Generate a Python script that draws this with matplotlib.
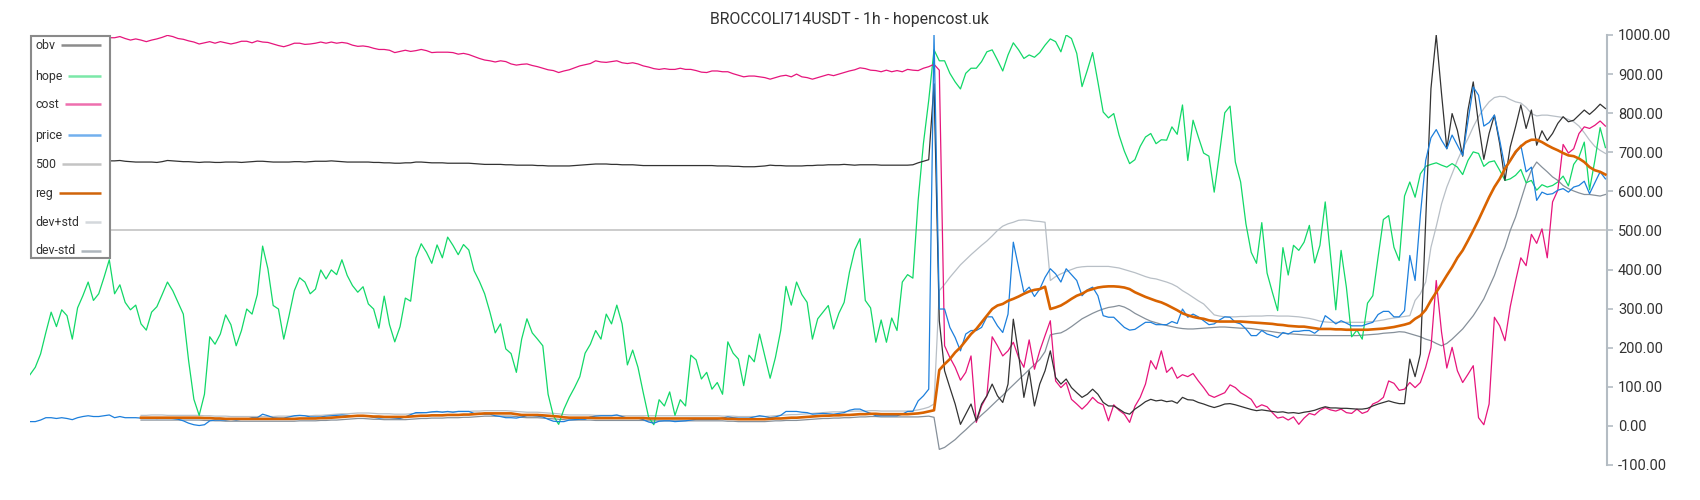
import matplotlib
matplotlib.use("Agg")
import matplotlib.pyplot as plt
import numpy as np
from matplotlib.patches import Rectangle

plt.rcParams['font.family'] = ['Roboto', 'DejaVu Sans']

title = "BROCCOLI714USDT - 1h - hopencost.uk"
labels = ["obv", "hope", "cost", "price", "500", "reg", "dev+std", "dev-std"]
y_ticks = [-100, 0, 100, 200, 300, 400, 500, 600, 700, 800, 900, 1000]

hope = [
    131,150,184,239,291,254,297,282,222,302,
    333,368,321,338,380,425,338,361,316,297,
    309,261,245,291,305,336,368,346,316,286,
    167,68,27,81,228,209,235,284,259,205,
    244,299,286,336,460,402,308,299,222,282,
    346,379,368,338,
    350,399,376,399,387,425,385,359,342,356,
    312,299,250,332,259,215,254,327,319,430,
    466,444,416,463,430,483,462,438,464,450,
    397,370,338,291,238,261,197,185,137,222,
    274,238,222,205,81,26,4,43,73,98,
    126,186,209,
    244,222,286,261,309,261,156,194,150,85,
    23,3,67,51,87,27,67,51,181,169,
    120,137,94,111,81,215,186,171,103,181,
    164,235,179,122,175,244,357,309,368,336,
    316,222,274,291,308,248,288,316,393,450,
    479,321,302,
    214,271,214,276,244,368,387,378,577,723,
    833,962,
    934,934,902,880,862,902,915,915,932,957,
    962,936,908,949,980,962,940,949,943,955,
    974,990,983,957,1000,991,953,868,910,955,
    880,803,788,799,744,703,671,681,715,739,
    748,722,732,731,765,746,821,679,782,739,
    698,690,598,697,801,818,675,624,517,444,
    416,520,391,342,295,456,386,462,449,470,
    513,417,462,573,436,297,449,355,228,245,
    222,314,333,432,528,538,457,423,588,624,
    585,645,664,
    669,673,667,662,671,662,643,679,701,697,
    664,675,678,654,628,632,641,656,622,628,
    603,617,611,615,624,639,614,669,688,726,
    604,679,763,712,
]

cost = [
    992,991,990,992,993,991,990,989,991,993,994,992,990,991,992,993,
    993,996,991,987,990,987,983,987,990,994,
    999,996,991,989,985,982,977,980,983,979,
    983,980,977,980,984,984,980,985,982,981,
    977,973,970,974,979,979,976,
    977,979,982,979,982,979,981,979,974,971,
    972,970,966,963,963,961,955,958,961,958,
    960,963,960,955,956,956,956,955,951,953,
    950,945,940,936,934,931,934,932,926,923,
    925,926,922,919,915,911,909,904,908,911,
    916,921,924,
    927,934,931,930,932,934,929,927,929,926,
    921,918,914,912,914,912,912,915,912,912,
    909,905,904,908,908,906,906,901,897,893,
    895,895,893,891,887,891,895,897,893,900,
    893,891,887,891,895,899,896,900,904,908,
    911,916,914,910,
    909,906,910,906,909,906,912,910,909,915,
    919,925,910,
    205,175,150,117,137,179,9,51,77,228,
    205,179,192,214,175,150,220,145,192,231,
    269,115,98,111,68,56,43,56,73,60,
    54,13,54,40,30,9,50,
    73,107,167,145,192,137,150,122,131,126,
    134,115,98,79,73,79,85,105,98,85,
    77,68,47,54,49,34,20,23,15,23,
    4,20,32,28,40,47,41,38,43,34,
    32,43,32,37,56,62,73,115,109,91,
    94,111,98,111,150,
    200,372,240,148,201,141,111,132,154,21,
    3,56,278,256,218,305,370,430,410,490,
    467,504,430,573,603,720,698,709,748,765,
    761,769,780,767,
]

obv = [
    678,678,677,678,679,678,677,678,678,677,678,679,678,677,678,678,
    678,679,677,676,675,675,675,675,674,676,
    679,678,677,676,676,675,674,675,675,674,
    674,675,675,675,674,675,676,677,677,676,
    675,675,675,675,676,676,675,
    676,677,677,677,678,677,676,675,675,675,
    675,675,674,674,673,673,672,672,673,673,
    675,675,674,673,673,673,672,672,672,672,
    672,671,670,669,669,669,669,668,668,667,
    667,667,667,666,666,665,665,665,665,665,
    666,667,668,
    669,670,670,670,669,669,668,668,668,667,
    666,666,666,666,666,666,666,666,666,666,
    666,666,666,666,665,665,665,664,664,663,
    663,663,664,665,667,666,666,665,665,665,
    665,666,666,667,667,668,668,668,669,668,
    667,668,668,668,
    668,667,667,667,667,667,667,668,673,677,
    681,875,
    269,141,98,56,4,30,56,13,56,77,
    107,77,60,107,273,184,73,141,51,107,
    141,192,124,107,120,98,85,73,81,94,
    81,60,51,51,43,34,30,43,
    52,62,68,64,66,62,64,58,73,67,
    66,60,56,51,47,51,56,57,54,50,
    46,42,39,41,39,37,35,36,33,34,
    32,35,37,40,45,49,46,46,45,45,
    44,43,43,45,51,56,60,64,60,57,
    57,171,126,184,
    520,863,1000,850,709,799,756,690,808,880,
    772,682,748,795,722,628,714,765,821,761,
    808,718,755,730,748,774,791,778,782,795,
    808,797,809,823,812,
]

price = [
    11,11,15,21,21,19,21,19,16,21,
    24,26,24,24,26,28,21,24,21,21,
    21,20,20,20,19,20,20,19,17,13,
    7,3,1,3,13,15,15,15,17,15,
    17,17,21,21,30,26,21,20,20,23,
    26,27,26,23,
    23,23,25,26,27,28,27,26,26,26,
    25,22,20,21,21,20,19,23,29,34,
    34,34,36,37,35,37,35,37,37,37,
    32,32,30,30,26,24,21,21,20,23,
    26,26,25,23,17,12,11,11,15,16,
    17,17,
    23,25,26,26,26,28,24,20,20,20,
    16,10,7,12,13,13,11,12,13,15,
    17,17,17,17,17,20,23,21,20,20,
    20,23,26,24,21,23,27,37,37,37,
    35,34,30,31,32,31,30,32,34,40,
    43,43,37,32,
    26,26,26,26,26,30,37,37,64,77,
    94,1000,
    299,299,252,226,192,235,244,244,252,279,
    279,256,239,286,470,406,342,355,331,350,
    380,402,389,368,402,387,372,333,348,355,
    333,282,278,278,265,252,245,247,256,
    265,265,259,259,259,267,262,299,278,286,
    279,269,259,261,271,279,278,265,261,248,
    231,231,244,235,231,226,239,235,242,242,
    244,244,237,248,282,272,261,269,263,256,
    256,256,261,265,285,293,293,279,279,295,
    436,372,540,679,
    737,758,731,709,744,718,692,780,867,846,
    767,776,795,731,662,679,697,718,650,662,
    577,598,592,594,603,607,598,611,615,626,
    594,622,650,632,
]

level_500 = 500

band_start = 21
reg = [
    21,21,21,21,21,21,21,21,21,21,
    21,21,20,20,19,19,18,18,18,18,
    18,18,18,18,18,18,18,18,18,18,
    19,19,
    19,19,20,20,21,22,23,24,25,26,
    26,25,24,24,23,23,23,23,23,24,
    25,26,26,27,27,27,28,28,28,29,
    29,30,31,32,32,32,32,32,32,30,
    28,28,28,28,27,26,25,24,22,21,
    21,21,21,
    21,20,20,20,20,20,20,20,20,20,
    20,19,19,19,19,19,19,19,19,19,
    19,19,19,19,19,19,18,18,17,17,
    17,17,17,17,18,19,19,20,21,21,
    22,23,24,25,26,26,27,27,28,28,
    29,30,30,31,31,30,30,30,30,30,
    30,31,32,34,37,
    40,143,158,171,188,201,218,235,248,265,
    282,299,308,312,320,325,331,338,344,348,
    350,356,299,303,308,316,325,333,338,346,
    350,354,356,357,357,356,354,350,342,336,
    330,325,320,316,310,303,296,288,283,279,
    276,274,270,268,267,267,267,267,267,266,
    265,264,263,262,261,259,258,256,255,254,
    254,252,250,248,248,248,247,247,246,246,
    246,246,246,247,248,249,251,253,256,259,
    263,274,282,297,
    321,342,363,385,406,430,449,474,500,527,
    556,585,611,632,658,679,701,715,726,732,
    732,726,718,711,705,698,692,690,684,675,
    662,654,650,643,
]

dev_plus = [
    27,27,28,28,28,27,27,27,27,27,
    27,27,26,26,25,25,25,24,24,24,
    24,24,24,24,24,24,25,25,25,25,
    26,26,
    26,27,27,28,29,30,31,31,32,33,
    33,33,32,31,31,31,30,30,30,31,
    32,33,34,35,35,36,36,36,37,37,
    37,38,38,39,39,39,39,39,38,37,
    36,35,35,35,34,33,32,31,29,28,
    28,28,28,
    28,27,27,27,27,27,26,26,26,26,
    26,26,26,26,26,26,26,26,26,26,
    26,26,26,26,26,25,25,25,24,24,
    24,24,24,24,25,26,27,28,29,29,
    30,31,32,33,34,35,36,36,37,37,
    38,38,38,39,39,38,38,38,38,38,
    38,39,41,44,48,
    56,346,362,380,396,412,425,438,450,462,
    473,486,500,511,517,521,526,527,526,524,
    523,521,372,382,389,395,400,405,407,408,
    408,408,408,408,406,404,400,396,392,387,
    382,378,376,372,368,363,356,346,338,329,
    320,312,298,284,281,279,279,279,280,280,
    281,281,281,282,282,281,281,281,280,279,
    277,275,272,268,266,265,265,265,265,265,
    265,265,266,267,269,271,274,276,278,280,
    282,321,338,368,
    457,510,568,611,645,679,709,735,765,791,
    812,829,840,843,842,835,829,826,815,799,
    793,795,795,793,791,789,784,778,767,750,
    731,715,705,697,
]

dev_minus = [
    15,15,15,15,15,15,15,15,15,15,
    15,15,14,14,13,13,12,12,12,12,
    12,12,12,12,12,12,12,12,12,12,
    13,13,
    13,13,14,14,15,15,16,17,18,19,
    19,18,17,17,16,16,16,16,16,17,
    18,19,19,20,20,20,21,21,21,22,
    22,23,24,25,25,25,25,25,25,24,
    22,21,21,21,20,19,18,17,16,15,
    15,15,15,
    15,14,14,14,14,14,14,14,14,14,
    14,13,13,13,13,13,13,13,13,13,
    13,13,13,13,13,13,12,12,11,11,
    11,11,11,11,12,13,13,14,14,14,
    15,16,17,18,19,19,20,20,21,21,
    22,23,23,24,24,23,23,23,23,23,
    23,23,23,24,25,
    22,-60,-55,-45,-35,-22,-10,3,15,28,
    40,53,66,78,92,105,118,131,144,157,
    170,190,233,236,238,245,254,264,274,281,
    288,294,299,303,305,308,304,297,288,281,
    274,268,264,260,257,254,251,249,248,248,
    249,250,251,252,253,253,252,251,250,250,
    249,247,245,243,241,239,237,236,235,234,
    233,232,232,231,231,231,231,231,231,231,
    231,232,233,234,235,237,238,239,241,240,
    236,232,228,222,
    218,211,205,211,222,235,248,265,282,303,
    325,355,385,423,457,500,534,577,620,654,
    675,662,650,637,628,615,607,601,596,592,
    592,590,588,592,
]

N = len(hope)
x = np.arange(N)
xb = np.arange(band_start, band_start + len(reg))

W, H = 1700, 500
fig = plt.figure(figsize=(W / 100, H / 100), dpi=100)
ax = fig.add_axes([30 / W, 35 / H, 1577 / W, 430 / H])

ax.plot(x, np.full(N, level_500), color='#c8c8c8', lw=1.3, zorder=1)
ax.plot(xb, dev_plus, color='#b8bfc6', lw=0.9, zorder=2)
ax.plot(xb, dev_minus, color='#86909a', lw=0.9, zorder=2)
ax.plot(x, hope, color='#12d868', lw=0.9, zorder=3)
ax.plot(x, cost, color='#e6157c', lw=0.9, zorder=3)
ax.plot(x, obv, color='#333333', lw=0.9, zorder=3)
ax.plot(x, price, color='#1c7fdc', lw=0.9, zorder=4)
ax.plot(xb, reg, color='#d96300', lw=1.9, zorder=5)

ax.set_xlim(0, 298.3)
ax.set_ylim(-100, 1000)
ax.set_xticks([])
ax.set_yticks(y_ticks)
ax.set_yticklabels([f"{t:.2f}" for t in y_ticks])
for s in ('left', 'top', 'bottom'):
    ax.spines[s].set_visible(False)
ax.spines['right'].set_color('#b4bcc3')
ax.spines['right'].set_linewidth(1.5)
ax.tick_params(axis='y', left=False, labelleft=False, right=True, labelright=True,
               direction='out', length=4, width=1.2, color='#b4bcc3',
               labelcolor='#333333', labelsize=10.5, pad=4)

fig.text(849 / W, 1 - 19.5 / H, title, ha='center', va='center',
         fontsize=11.4, color='#333333')

# legend box
lx0, ly0, lw_, lh_ = 30, 35, 81, 224
lax = fig.add_axes([lx0 / W, 1 - (ly0 + lh_) / H, lw_ / W, lh_ / H])
lax.set_xlim(0, lw_)
lax.set_ylim(lh_, 0)
lax.axis('off')
lax.add_patch(Rectangle((0.75, 0.75), lw_ - 1.5, lh_ - 1.5, facecolor='white',
                        edgecolor='#8a8a8a', lw=1.5, zorder=1, clip_on=False))
handle_colors = ['#8c8c8c', '#7be8a8', '#ee6fae', '#72b0ee', '#c4c4c4',
                 '#d0640a', '#d4d8dc', '#adb5bc']
row_y = [10, 41, 69, 100, 129, 158, 187, 216]
fig.canvas.draw()
renderer = fig.canvas.get_renderer()
for lab, col, yy in zip(labels, handle_colors, row_y):
    t = lax.text(5, yy, lab, ha='left', va='center', fontsize=8.9,
                 color='#333333', zorder=2)
    ext = t.get_window_extent(renderer=renderer)
    xend = ext.x1 - lx0 + 6
    lax.plot([xend, 71], [yy, yy], color=col, lw=1.8, solid_capstyle='butt', zorder=2)

fig.savefig('out.png', dpi=100)
